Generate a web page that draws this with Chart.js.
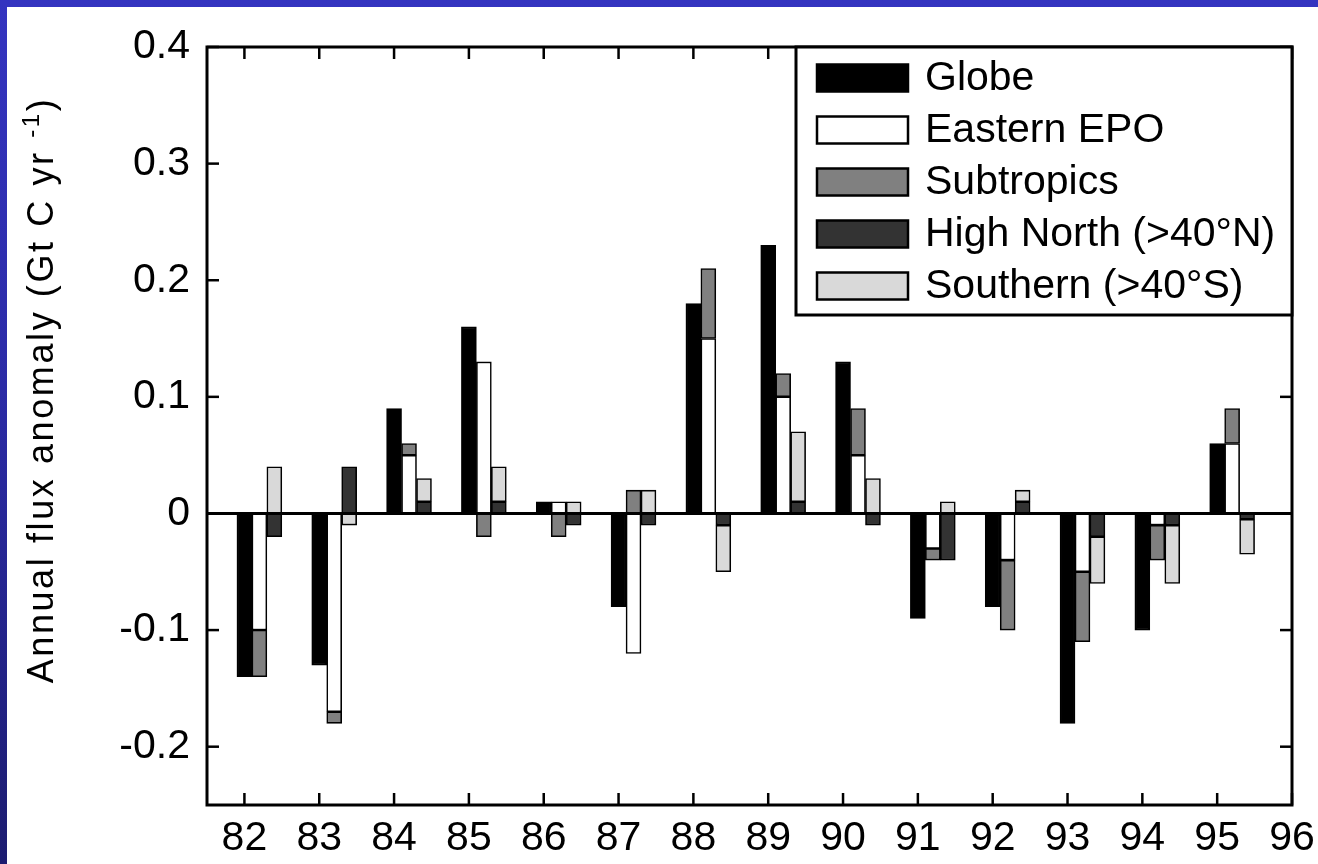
<!DOCTYPE html>
<html>
<head>
<meta charset="utf-8">
<title>Annual flux anomaly by region</title>
<script src="https://cdn.jsdelivr.net/npm/chart.js@4.4.1/dist/chart.umd.min.js"></script>
<style>
  html, body { margin: 0; padding: 0; }
  body {
    width: 1318px; height: 864px; overflow: hidden; position: relative;
    background: linear-gradient(to bottom, #3434c0 0%, #2b2ba6 45%, #1c1c70 100%);
  }
  #wrap { position: absolute; left: 7px; top: 7px; width: 1311px; height: 857px; background: #ffffff; }
  canvas { display: block; }
</style>
</head>
<body>
<div id="wrap"><canvas id="chart" width="1311" height="857"></canvas></div>
<script>
// Years (19xx) and annual flux anomalies, Gt C per year
const years = [82, 83, 84, 85, 86, 87, 88, 89, 90, 91, 92, 93, 94, 95];
const xTickValues = [82, 83, 84, 85, 86, 87, 88, 89, 90, 91, 92, 93, 94, 95, 96];
const yTickValues = [-0.2, -0.1, 0, 0.1, 0.2, 0.3, 0.4];
const yTickLabels = ['-0.2', '-0.1', '0', '0.1', '0.2', '0.3', '0.4'];

const globe      = [-0.14, -0.13, 0.09, 0.16, 0.01, -0.08, 0.18, 0.23, 0.13, -0.09, -0.08, -0.18, -0.10, 0.06];
const easternEPO = [-0.10, -0.17, 0.05, 0.13, 0.01, -0.12, 0.15, 0.10, 0.05, -0.03, -0.04, -0.05, -0.01, 0.06];
const subtropics = [-0.04, -0.01, 0.01, -0.02, -0.02, 0.02, 0.06, 0.02, 0.04, -0.01, -0.06, -0.06, -0.03, 0.03];
const highNorth  = [-0.02, 0.04, 0.01, 0.01, -0.01, -0.01, -0.01, 0.01, -0.01, -0.04, 0.01, -0.02, -0.01, -0.005];
const southern   = [0.04, -0.01, 0.02, 0.03, 0.01, 0.02, -0.04, 0.06, 0.03, 0.01, 0.01, -0.04, -0.05, -0.03];

const seriesNames  = ['Globe', 'Eastern EPO', 'Subtropics', 'High North (>40\u00B0N)', 'Southern (>40\u00B0S)'];
const seriesColors = ['#000000', '#ffffff', '#808080', '#333333', '#d9d9d9'];

const yTitleMain = 'Annual flux anomaly (Gt C yr ';
const yTitleSup = '-1';
const yTitleEnd = ')';

const FONT = "'Liberation Sans', Arial, Helvetica, sans-serif";

const barStyle = (i) => ({
  backgroundColor: seriesColors[i],
  borderColor: '#000000',
  borderWidth: 1.6,
  borderSkipped: false,
  categoryPercentage: 1.0,
  barPercentage: 1.0
});

// Two empty stacks sit left of the Globe bar so that Globe is centred on its year tick
const datasets = [
  { label: '', data: [], stack: 'spacerA', spacer: true },
  { label: '', data: [], stack: 'spacerB', spacer: true },
  { label: seriesNames[0], data: globe,      stack: 'globe',     ...barStyle(0) },
  { label: seriesNames[1], data: easternEPO, stack: 'tropics',   ...barStyle(1) },
  { label: seriesNames[2], data: subtropics, stack: 'tropics',   ...barStyle(2) },
  { label: seriesNames[3], data: highNorth,  stack: 'extratrop', ...barStyle(3) },
  { label: seriesNames[4], data: southern,   stack: 'extratrop', ...barStyle(4) }
];

function strokeLine(ctx, x1, y1, x2, y2) {
  ctx.beginPath();
  ctx.moveTo(x1, y1);
  ctx.lineTo(x2, y2);
  ctx.stroke();
}

// Zero line, boxed frame with inward ticks, and the legend panel in the top-right corner
const frameAndLegend = {
  id: 'frameAndLegend',
  afterDatasetsDraw(chart) {
    const { ctx, chartArea: a } = chart;
    const xs = chart.scales.x, ys = chart.scales.y;
    ctx.save();
    ctx.strokeStyle = '#000000';
    ctx.lineCap = 'butt';

    ctx.lineWidth = 3;
    const y0 = ys.getPixelForValue(0);
    strokeLine(ctx, a.left, y0, a.right, y0);

    ctx.lineWidth = 2.5;
    const tick = 12;
    xs.ticks.forEach(t => {
      const px = xs.getPixelForValue(t.value);
      strokeLine(ctx, px, a.bottom, px, a.bottom - tick);
      strokeLine(ctx, px, a.top, px, a.top + tick);
    });
    ys.ticks.forEach(t => {
      const py = ys.getPixelForValue(t.value);
      strokeLine(ctx, a.left, py, a.left + tick, py);
      strokeLine(ctx, a.right, py, a.right - tick, py);
    });

    ctx.lineWidth = 3;
    ctx.strokeRect(a.left, a.top, a.right - a.left, a.bottom - a.top);

    // legend panel
    const w = 496, h = 268;
    const left = a.right - w, top = a.top;
    ctx.fillStyle = '#ffffff';
    ctx.fillRect(left, top, w, h);
    ctx.lineWidth = 3;
    ctx.strokeRect(left, top, w, h);

    const items = chart.data.datasets.filter(ds => !ds.spacer);
    ctx.font = '41px ' + FONT;
    ctx.textBaseline = 'middle';
    ctx.textAlign = 'left';
    items.forEach((ds, i) => {
      const cy = top + 31 + i * 52;
      ctx.fillStyle = ds.backgroundColor;
      ctx.fillRect(left + 21, cy - 13.5, 91, 27);
      ctx.lineWidth = 2.5;
      ctx.strokeRect(left + 21, cy - 13.5, 91, 27);
      ctx.fillStyle = '#000000';
      ctx.fillText(ds.label, left + 129, cy + 1);
    });
    ctx.restore();
  },
  afterDraw(chart) {
    // rotated y-axis title with a raised exponent
    const { ctx } = chart;
    ctx.save();
    const mainFont = '36px ' + FONT;
    const supFont = '24px ' + FONT;
    ctx.letterSpacing = '2.6px';
    ctx.font = mainFont;
    const w1 = ctx.measureText(yTitleMain).width;
    const w3 = ctx.measureText(yTitleEnd).width;
    ctx.font = supFont;
    const w2 = ctx.measureText(yTitleSup).width;
    const total = w1 + w2 + w3;
    const centre = 383;
    ctx.translate(46, centre + total / 2);
    ctx.rotate(-Math.PI / 2);
    ctx.fillStyle = '#000000';
    ctx.textBaseline = 'alphabetic';
    ctx.textAlign = 'left';
    ctx.font = mainFont;
    ctx.fillText(yTitleMain, 0, 0);
    ctx.font = supFont;
    ctx.fillText(yTitleSup, w1, -14);
    ctx.font = mainFont;
    ctx.fillText(yTitleEnd, w1 + w2, 0);
    ctx.restore();
  }
};

new Chart(document.getElementById('chart'), {
  type: 'bar',
  data: { labels: years, datasets },
  options: {
    responsive: false,
    animation: false,
    devicePixelRatio: 1,
    layout: { padding: { top: 40, right: 26, left: 0, bottom: 0 } },
    plugins: { legend: { display: false }, tooltip: { enabled: false } },
    scales: {
      x: {
        type: 'linear',
        min: 81.5,
        max: 96,
        offset: false,
        stacked: true,
        grid: { display: false, drawTicks: false, offset: false },
        border: { display: false },
        ticks: {
          color: '#000000',
          font: { family: FONT, size: 41 },
          padding: 9,
          maxRotation: 0,
          autoSkip: false,
          callback: (v) => String(v)
        },
        afterBuildTicks: (axis) => { axis.ticks = xTickValues.map(v => ({ value: v })); },
        afterFit: (axis) => {
          axis.height = 59;
          axis.paddingLeft = 0;
          axis.paddingRight = 0;
        }
      },
      y: {
        type: 'linear',
        min: -0.25,
        max: 0.4,
        stacked: true,
        grid: { display: false, drawTicks: false },
        border: { display: false },
        ticks: {
          color: '#000000',
          font: { family: FONT, size: 41 },
          padding: 17,
          callback: (v, i) => yTickLabels[i]
        },
        afterBuildTicks: (axis) => { axis.ticks = yTickValues.map(v => ({ value: v })); },
        afterFit: (axis) => {
          axis.width = 200;
          axis.paddingTop = 0;
          axis.paddingBottom = 0;
        }
      }
    }
  },
  plugins: [frameAndLegend]
});
</script>
</body>
</html>
